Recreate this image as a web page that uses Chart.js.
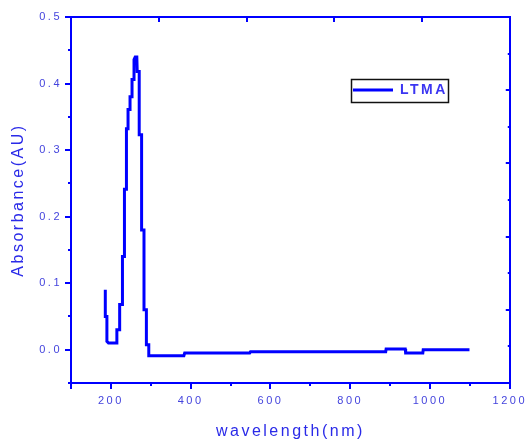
<!DOCTYPE html>
<html>
<head>
<meta charset="utf-8">
<script src="https://cdn.jsdelivr.net/npm/chart.js@4.4.0/dist/chart.umd.min.js"></script>
<style>
html,body{margin:0;padding:0;background:#fff;}
#wrap{width:532px;height:446px;}
</style>
</head>
<body>
<div id="wrap"><canvas id="c" width="532" height="446"></canvas></div>
<script>
// ---- data ----
const seriesName = 'LTMA';
const wavelength = [186, 186, 190, 190, 194, 215, 215, 222, 222, 229, 229, 234, 234, 239, 239, 243, 243, 248, 248, 253, 253, 258, 258, 261, 265, 266, 271, 271, 277, 277, 283, 283, 289, 289, 295, 295, 383, 385, 548, 550, 889, 890, 938, 939, 982, 983, 1099];
const absorbance = [0.090, 0.050, 0.050, 0.0125, 0.010, 0.010, 0.030, 0.030, 0.068, 0.068, 0.140, 0.140, 0.241, 0.241, 0.332, 0.332, 0.361, 0.361, 0.380, 0.380, 0.406, 0.406, 0.436, 0.440, 0.440, 0.418, 0.418, 0.323, 0.323, 0.180, 0.180, 0.060, 0.060, 0.0075, 0.0075, -0.009, -0.009, -0.005, -0.005, -0.003, -0.003, 0.001, 0.001, -0.005, -0.005, 0.000, 0.000];

const xMajorTicks = [100, 200, 400, 600, 800, 1000, 1200];
const xTickLabels = ['', '200', '400', '600', '800', '1000', '1200'];
const xMinorTicks = [300, 500, 700, 900, 1100];
const yMajorTicks = [0.0, 0.1, 0.2, 0.3, 0.4, 0.5];
const yTickLabels = ['0.0', '0.1', '0.2', '0.3', '0.4', '0.5'];
const yMinorTicks = [-0.05, 0.05, 0.15, 0.25, 0.35, 0.45];
const topTicks = [1, 2, 3, 4];
const rightMajorTicks = [2, 4, 6, 8];
const rightMinorTicks = [1, 3, 5, 7, 9];

// ---- styling ----
const BLUE = '#0000ff';
const TICK_TEXT = '#4444dd';
const TITLE_TEXT = '#2a2ae8';
const FONT = "'Liberation Sans', Arial, sans-serif";

const setTicks = arr => scale => { scale.ticks = arr.map(v => ({ value: v })); };

const spacing = {
  id: 'spacing',
  afterInit(chart) { chart.ctx.letterSpacing = '2.5px'; },
  beforeUpdate(chart) { chart.ctx.letterSpacing = '2.5px'; },
  beforeLayout(chart) { chart.ctx.letterSpacing = '2.5px'; },
  beforeDraw(chart) { chart.ctx.letterSpacing = '2.5px'; }
};

const legendPlace = {
  id: 'legendPlace',
  afterLayout(chart) {
    const lg = chart.legend;
    if (!lg) return;
    const w = lg.width, h = lg.height;
    lg.left = 351; lg.top = 81;
    lg.right = lg.left + w; lg.bottom = lg.top + h;
  },
  afterDraw(chart) {
    const lg = chart.legend;
    if (!lg || !lg.legendHitBoxes || !lg.legendHitBoxes.length) return;
    const hb = lg.legendHitBoxes[0];
    const ctx = chart.ctx;
    ctx.save();
    ctx.strokeStyle = '#111';
    ctx.lineWidth = 1.5;
    ctx.strokeRect(Math.round(hb.left - 2) + 0.5, Math.round(hb.top - 4) + 0.5, Math.round(hb.width + 2), Math.round(hb.height + 9));
    ctx.restore();
  }
};

const axisBase = (pos, min, max) => ({
  type: 'linear', position: pos, min, max,
  grid: { drawOnChartArea: false, drawTicks: true, color: BLUE, tickColor: BLUE, lineWidth: 2 },
  border: { display: true, color: BLUE, width: 2 },
  ticks: { display: false }
});

const cfg = {
  type: 'line',
  data: {
    datasets: [{
      label: seriesName,
      data: wavelength.map((w, i) => ({ x: w, y: absorbance[i] })),
      borderColor: BLUE,
      backgroundColor: BLUE,
      borderWidth: 3,
      pointRadius: 0,
      tension: 0,
      fill: false,
      xAxisID: 'x',
      yAxisID: 'y'
    }]
  },
  options: {
    responsive: false,
    animation: false,
    devicePixelRatio: 1,
    layout: { padding: 0 },
    plugins: {
      tooltip: { enabled: false },
      legend: {
        display: true,
        position: 'chartArea',
        align: 'start',
        labels: {
          usePointStyle: true,
          pointStyle: 'line',
          pointStyleWidth: 40,
          boxHeight: 14,
          padding: 2,
          color: '#3b35f2',
          font: { family: FONT, size: 14, weight: 'bold' }
        }
      }
    },
    scales: {
      x: Object.assign(axisBase('bottom', 100, 1200), {
        weight: 1,
        afterBuildTicks: setTicks(xMajorTicks),
        afterFit: s => { s.height = 63; },
        grid: { drawOnChartArea: false, drawTicks: true, color: BLUE, tickColor: BLUE, lineWidth: 2, tickLength: 6 },
        ticks: {
          display: true, autoSkip: false, maxRotation: 0, padding: 5, color: TICK_TEXT,
          font: { family: FONT, size: 11 },
          callback: v => xTickLabels[xMajorTicks.indexOf(v)]
        },
        title: { display: true, text: 'wavelength(nm)', color: TITLE_TEXT, font: { family: FONT, size: 16 }, padding: { top: 0, bottom: 5 } }
      }),
      xMinor: Object.assign(axisBase('bottom', 100, 1200), {
        weight: 0,
        afterBuildTicks: setTicks(xMinorTicks),
        afterFit: s => { s.height = 0; },
        border: { display: false },
        grid: { drawOnChartArea: false, drawTicks: true, color: BLUE, tickColor: BLUE, lineWidth: 2, tickLength: 3 }
      }),
      xTop: Object.assign(axisBase('top', 0, 5), {
        afterBuildTicks: setTicks(topTicks),
        afterFit: s => { s.height = 17; },
        grid: { drawOnChartArea: false, drawTicks: true, color: BLUE, tickColor: BLUE, lineWidth: 2, tickLength: -5 }
      }),
      y: Object.assign(axisBase('left', -0.05, 0.5), {
        weight: 1,
        afterBuildTicks: setTicks(yMajorTicks),
        afterFit: s => { s.width = 71; },
        grid: { drawOnChartArea: false, drawTicks: true, color: BLUE, tickColor: BLUE, lineWidth: 2, tickLength: 6 },
        ticks: {
          display: true, autoSkip: false, padding: 3, color: TICK_TEXT,
          font: { family: FONT, size: 11 },
          callback: v => yTickLabels[yMajorTicks.indexOf(v)]
        },
        title: { display: true, text: 'Absorbance(AU)', color: TITLE_TEXT, font: { family: FONT, size: 16 }, padding: { top: 9, bottom: 0 } }
      }),
      yMinor: Object.assign(axisBase('left', -0.05, 0.5), {
        weight: 0,
        afterBuildTicks: setTicks(yMinorTicks),
        afterFit: s => { s.width = 0; },
        border: { display: false },
        grid: { drawOnChartArea: false, drawTicks: true, color: BLUE, tickColor: BLUE, lineWidth: 2, tickLength: 3 }
      }),
      yRight: Object.assign(axisBase('right', 0, 10), {
        weight: 1,
        afterBuildTicks: setTicks(rightMajorTicks),
        afterFit: s => { s.width = 15; },
        grid: { drawOnChartArea: false, drawTicks: true, color: BLUE, tickColor: BLUE, lineWidth: 2, tickLength: -4 }
      }),
      yRightMinor: Object.assign(axisBase('right', 0, 10), {
        weight: 0,
        afterBuildTicks: setTicks(rightMinorTicks),
        afterFit: s => { s.width = 0; },
        border: { display: false },
        grid: { drawOnChartArea: false, drawTicks: true, color: BLUE, tickColor: BLUE, lineWidth: 2, tickLength: -2 }
      })
    }
  },
  plugins: [spacing, legendPlace]
};

new Chart(document.getElementById('c'), cfg);
</script>
</body>
</html>
